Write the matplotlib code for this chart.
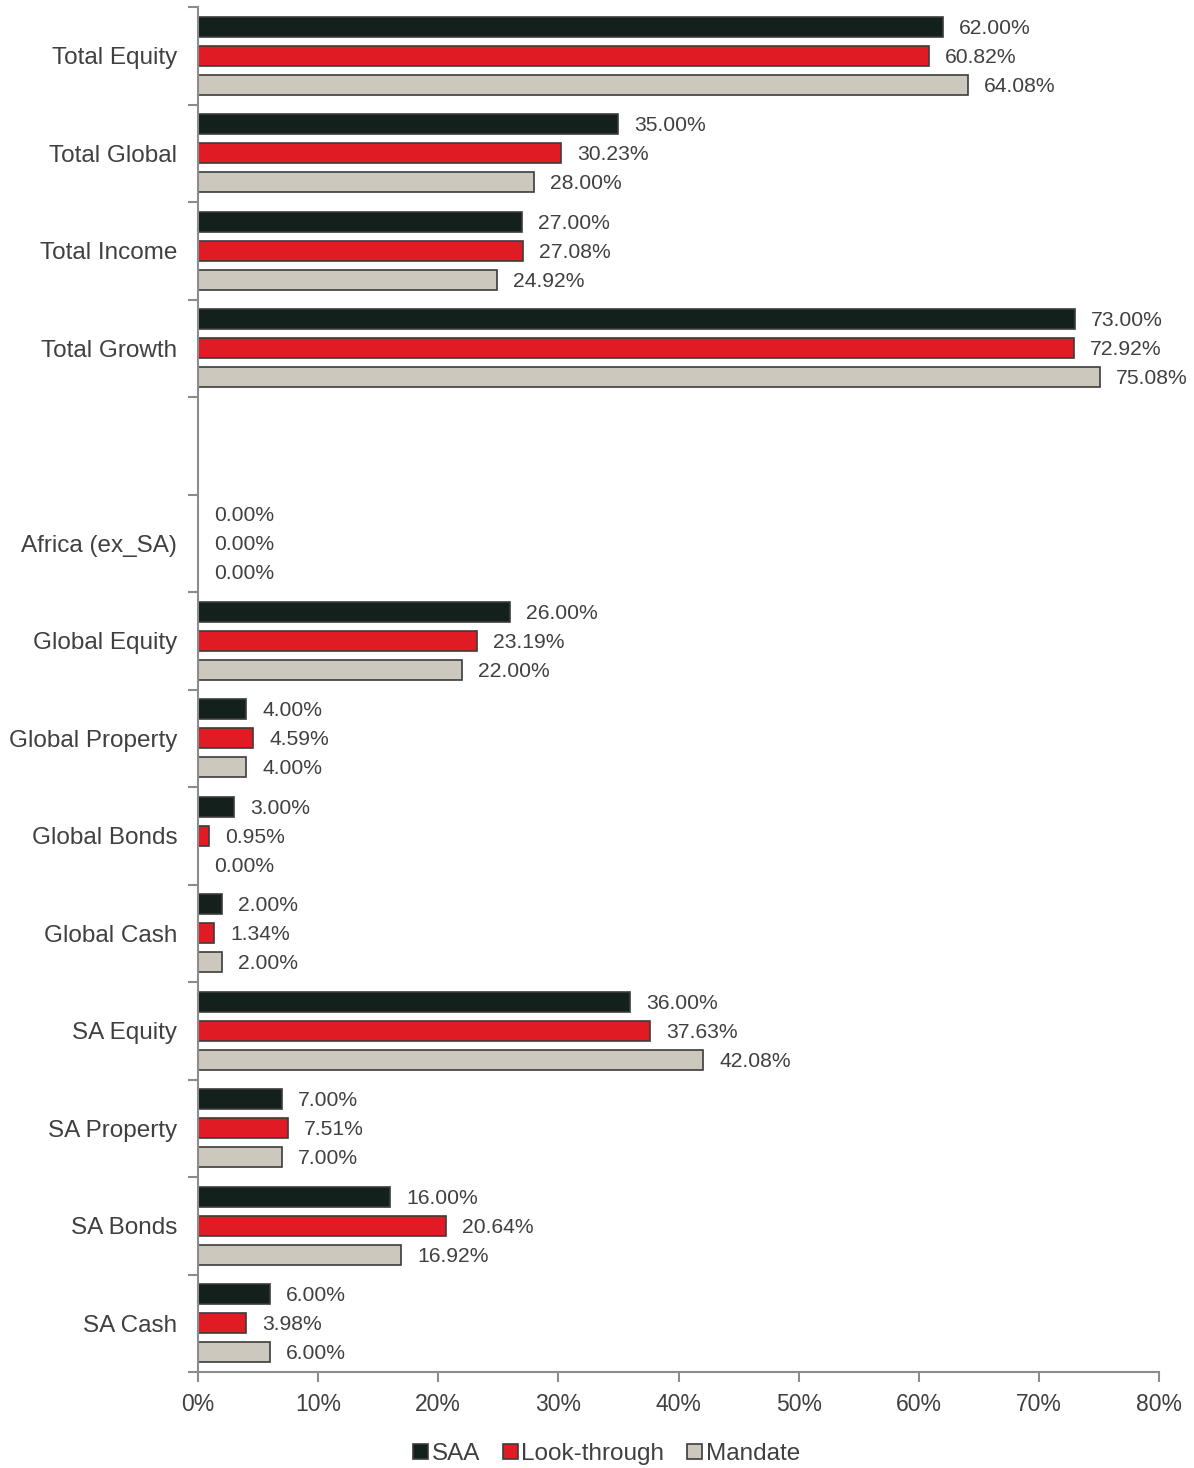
import matplotlib
matplotlib.use("Agg")
import matplotlib.pyplot as plt
import numpy as np
from matplotlib.patches import Patch

plt.rcParams['font.family'] = ['Liberation Sans', 'DejaVu Sans']

categories = ["Total Equity", "Total Global", "Total Income", "Total Growth", "",
              "Africa (ex_SA)", "Global Equity", "Global Property", "Global Bonds",
              "Global Cash", "SA Equity", "SA Property", "SA Bonds", "SA Cash"]
saa = [62.00, 35.00, 27.00, 73.00, None, 0.00, 26.00, 4.00, 3.00, 2.00, 36.00, 7.00, 16.00, 6.00]
look_through = [60.82, 30.23, 27.08, 72.92, None, 0.00, 23.19, 4.59, 0.95, 1.34, 37.63, 7.51, 20.64, 3.98]
mandate = [64.08, 28.00, 24.92, 75.08, None, 0.00, 22.00, 4.00, 0.00, 2.00, 42.08, 7.00, 16.92, 6.00]

series_names = ["SAA", "Look-through", "Mandate"]
colors = ["#13201b", "#e01b23", "#ccc8be"]
edge = "#3c3c3c"
text_color = "#404040"
spine_color = "#8c8c8c"

fig = plt.figure(figsize=(11.94, 14.68), dpi=100)
ax = fig.add_axes([198 / 1194, 1 - 1372 / 1468, (1159 - 198) / 1194, (1372 - 7) / 1468])

n = len(categories)
y = np.arange(n)
offsets = [-0.297, 0.0, 0.297]
bar_h = 0.205

for vals, off, col in zip([saa, look_through, mandate], offsets, colors):
    for i, v in enumerate(vals):
        if v is None:
            continue
        ax.barh(y[i] + off, v, height=bar_h, color=col, edgecolor=edge, linewidth=1.2)
        ax.annotate(f"{v:.2f}%", xy=(v, y[i] + off), xytext=(11.5, -1.2),
                    textcoords="offset points", va="center", ha="left",
                    fontsize=15.2, color=text_color)

ax.set_ylim(n - 0.5, -0.5)
ax.set_xlim(0, 80)
ax.set_xticks(np.arange(0, 81, 10))
ax.set_xticklabels([f"{t}%" for t in range(0, 81, 10)])
ax.set_yticks(y)
ax.set_yticklabels(categories)
ax.set_yticks(np.arange(-0.5, n, 1), minor=True)

ax.tick_params(axis="y", which="major", length=0, pad=15, labelsize=17.5, labelcolor=text_color)
ax.tick_params(axis="y", which="minor", length=7, width=1.5, color=spine_color, direction="out")
ax.tick_params(axis="x", which="major", length=7, width=1.5, color=spine_color, direction="out",
               labelsize=16.5, labelcolor=text_color, pad=8)

for s in ["top", "right"]:
    ax.spines[s].set_visible(False)
for s in ["left", "bottom"]:
    ax.spines[s].set_color(spine_color)
    ax.spines[s].set_linewidth(1.5)

handles = [Patch(facecolor=c, edgecolor=edge, linewidth=1.2, label=l) for c, l in zip(colors, series_names)]
fig.legend(handles=handles, loc="center", bbox_to_anchor=(0.508, 1 - 1454 / 1468), ncol=3,
           frameon=False, fontsize=17.5, handlelength=0.6, handleheight=0.6, handletextpad=0.15,
           columnspacing=0.95, labelcolor=text_color)

fig.savefig("out.png", dpi=100)
